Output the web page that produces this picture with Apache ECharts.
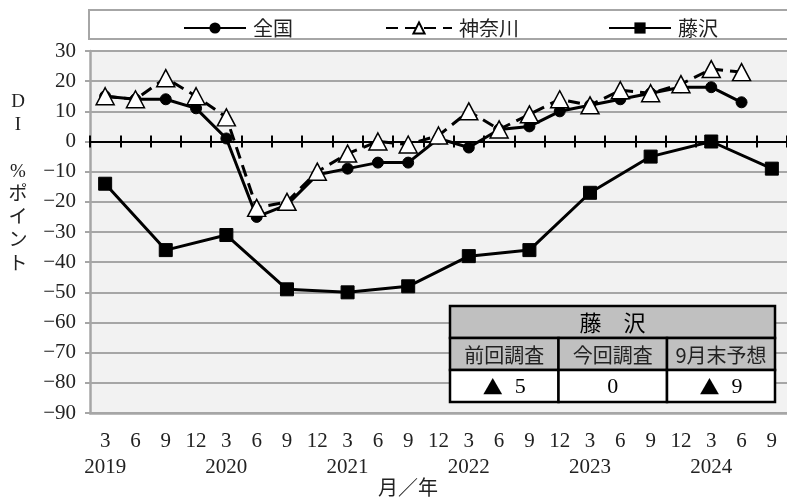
<!DOCTYPE html>
<html>
<head>
<meta charset="utf-8">
<script src="https://cdn.jsdelivr.net/npm/echarts@6/dist/echarts.min.js"></script>
<style>
  html, body { margin: 0; padding: 0; background: #ffffff; }
  #chart { width: 787px; height: 503px; }
</style>
</head>
<body>
<div id="chart"></div>
<script>
// Survey periods (quarter-end month of each year)
const categories = [
  '2019/3', '2019/6', '2019/9', '2019/12',
  '2020/3', '2020/6', '2020/9', '2020/12',
  '2021/3', '2021/6', '2021/9', '2021/12',
  '2022/3', '2022/6', '2022/9', '2022/12',
  '2023/3', '2023/6', '2023/9', '2023/12',
  '2024/3', '2024/6', '2024/9'
];
const monthLabels = ['3', '6', '9', '12', '3', '6', '9', '12', '3', '6', '9', '12',
  '3', '6', '9', '12', '3', '6', '9', '12', '3', '6', '9'];
const yearLabels = ['2019', '', '', '', '2020', '', '', '', '2021', '', '', '',
  '2022', '', '', '', '2023', '', '', '', '2024', '', ''];

// DI (% points)
const zenkoku = [15, 14, 14, 11, 1, -25, -21, -11, -9, -7, -7, 1,
  -2, 4, 5, 10, 12, 14, 16, 18, 18, 13, null];
const kanagawa = [15, 14, 21, 15, 8, -22, -20, -10, -4, 0, -1, 2,
  10, 4, 9, 14, 12, 17, 16, 19, 24, 23, null];
const fujisawa = [-14, null, -36, null, -31, null, -49, null, -50, null, -48, null,
  -38, null, -36, null, -17, null, -5, null, 0, null, -9];

// Value axis
const yMin = -90, yMax = 30, yStep = 10;

// Summary box: previous survey, current survey, end-of-September outlook
const tableTitle = '藤　沢';
const tableHeads = ['前回調査', '今回調査', '9月末予想'];
const tableIndex = [categories.indexOf('2023/9'), categories.indexOf('2024/3'), categories.indexOf('2024/9')];

// negative DI is written with a ▲ mark
const fmtDI = v => (v < 0 ? '{tri|▲}{gap| }' + Math.abs(v) : String(v));
const fmtAxis = v => (v < 0 ? '−' + Math.abs(v) : String(v));

const serif = '"Liberation Serif", "DejaVu Serif", "Noto Sans CJK JP", serif';
const sans = '"Noto Sans CJK JP", "Noto Sans", sans-serif';

const chart = echarts.init(document.getElementById('chart'), null, { renderer: 'canvas' });

// Table geometry
const tX = 450, tY = 306, colW = [108.5, 108.5, 108], rowH = [32, 32, 32];
const tableGraphics = [];
const totalW = colW.reduce((a, b) => a + b, 0);
// header row
tableGraphics.push({
  type: 'rect', shape: { x: tX, y: tY, width: totalW, height: rowH[0] },
  style: { fill: '#c0c0c0', stroke: '#000', lineWidth: 2.5 }, z: 100
});
tableGraphics.push({
  type: 'text', x: tX + totalW / 2, y: tY + rowH[0] / 2 + 1, z: 101,
  style: { text: tableTitle, fontSize: 22, fontFamily: sans, fill: '#000', align: 'center', verticalAlign: 'middle' }
});
let cx = tX;
tableHeads.forEach((h, i) => {
  tableGraphics.push({
    type: 'rect', shape: { x: cx, y: tY + rowH[0], width: colW[i], height: rowH[1] },
    style: { fill: '#c0c0c0', stroke: '#000', lineWidth: 2.5 }, z: 100
  });
  tableGraphics.push({
    type: 'rect', shape: { x: cx, y: tY + rowH[0] + rowH[1], width: colW[i], height: rowH[2] },
    style: { fill: '#ffffff', stroke: '#000', lineWidth: 2.5 }, z: 100
  });
  tableGraphics.push({
    type: 'text', x: cx + colW[i] / 2, y: tY + rowH[0] + rowH[1] / 2 + 1, z: 101,
    style: { text: h, fontSize: 20, fontFamily: sans, fill: '#222', align: 'center', verticalAlign: 'middle' }
  });
  tableGraphics.push({
    type: 'text', x: cx + colW[i] / 2, y: tY + rowH[0] + rowH[1] + rowH[2] / 2 + 1, z: 101,
    style: {
      text: fmtDI(fujisawa[tableIndex[i]]), fontSize: 22, fontFamily: serif, fill: '#000',
      align: 'center', verticalAlign: 'middle',
      rich: {
        tri: { fontSize: 20, fontFamily: sans, fill: '#000' },
        gap: { fontSize: 22, fontFamily: serif, width: 12 }
      }
    }
  });
  cx += colW[i];
});

const legendBase = {
  top: 13, itemHeight: 14, itemGap: 6,
  textStyle: { fontSize: 20, fontFamily: sans, color: '#222', padding: [0, 0, 0, 2] },
  inactiveColor: '#000'
};

const option = {
  backgroundColor: '#ffffff',
  animation: false,
  graphic: [
    {
      type: 'rect', shape: { x: 89, y: 10, width: 720, height: 29 },
      style: { fill: '#ffffff', stroke: '#a6a6a6', lineWidth: 2 }, z: -1
    },
    {
      type: 'text', x: 18, y: 90,
      style: {
        text: 'D\nI\n\n%\nポ\nイ\nン\nト', fontSize: 19, lineHeight: 23.3,
        fontFamily: serif, fill: '#222', align: 'center', verticalAlign: 'top'
      }
    },
    {
      type: 'text', x: 408, y: 490,
      style: { text: '月／年', fontSize: 20, fontFamily: serif, fill: '#222', align: 'center', verticalAlign: 'middle' }
    }
  ].concat(tableGraphics),
  legend: [
    Object.assign({}, legendBase, { left: 178, itemWidth: 62, data: ['全国'] }),
    Object.assign({}, legendBase, { left: 380, itemWidth: 66, data: ['神奈川'] }),
    Object.assign({}, legendBase, { left: 603, itemWidth: 62, data: ['藤沢'] })
  ],
  grid: {
    left: 90, top: 51, right: -9, bottom: 90,
    show: true, backgroundColor: '#f2f2f2', borderWidth: 0
  },
  xAxis: [
    {
      type: 'category', data: categories, position: 'bottom',
      axisLine: { onZero: false, lineStyle: { color: '#a6a6a6', width: 2.5 } },
      axisTick: { show: false },
      axisLabel: {
        interval: 0, margin: 15, fontSize: 21, lineHeight: 26, fontFamily: serif, color: '#222',
        formatter: (v, i) => monthLabels[i] + '\n' + yearLabels[i]
      },
      splitLine: { show: false }
    },
    {
      type: 'category', data: categories, position: 'bottom',
      axisLine: { onZero: true, onZeroAxisIndex: 0, lineStyle: { color: '#000', width: 2 } },
      axisTick: { show: true, inside: true, length: 6, interval: 0, lineStyle: { color: '#000', width: 2 } },
      axisLabel: { show: false }, splitLine: { show: false }
    },
    {
      type: 'category', data: categories, position: 'bottom',
      axisLine: { onZero: true, onZeroAxisIndex: 0, lineStyle: { color: '#000', width: 2 } },
      axisTick: { show: true, inside: false, length: 6, interval: 0, lineStyle: { color: '#000', width: 2 } },
      axisLabel: { show: false }, splitLine: { show: false }
    }
  ],
  yAxis: {
    type: 'value', min: yMin, max: yMax, interval: yStep,
    axisLine: { show: true, lineStyle: { color: '#a6a6a6', width: 2.5 } },
    axisTick: { show: true, length: 5, lineStyle: { color: '#a6a6a6', width: 2 } },
    axisLabel: { margin: 14, fontSize: 21, fontFamily: serif, color: '#222', formatter: fmtAxis },
    splitLine: { lineStyle: { color: '#a6a6a6', width: 2 } }
  },
  series: [
    {
      name: '全国', type: 'line', data: zenkoku,
      symbol: 'circle', symbolSize: 11,
      lineStyle: { color: '#000', width: 3 },
      itemStyle: { color: '#000', borderColor: '#000' },
      z: 3
    },
    {
      name: '神奈川', type: 'line', data: kanagawa,
      symbol: 'triangle', symbolSize: [18, 17],
      lineStyle: { color: '#000', width: 3, type: [12, 7] },
      itemStyle: { color: '#ffffff', borderColor: '#000', borderWidth: 1.5 },
      z: 4
    },
    {
      name: '藤沢', type: 'line', data: fujisawa, connectNulls: true,
      symbol: 'rect', symbolSize: 13,
      lineStyle: { color: '#000', width: 3 },
      itemStyle: { color: '#000', borderColor: '#000' },
      z: 3
    }
  ]
};

chart.setOption(option);
</script>
</body>
</html>
